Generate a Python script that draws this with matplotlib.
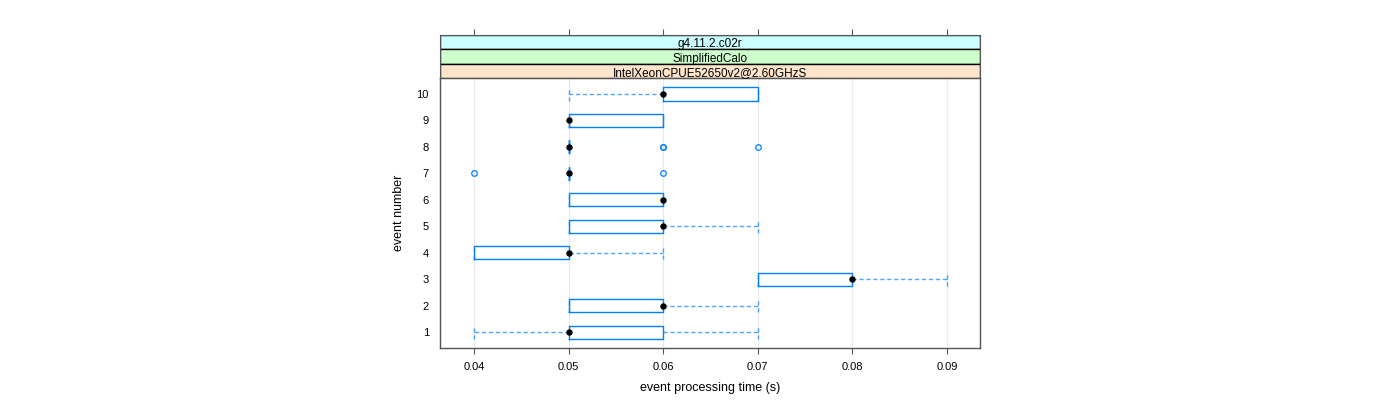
import numpy as np
import matplotlib.pyplot as plt
from matplotlib.patches import Rectangle

plt.rcParams['font.family'] = ['Liberation Sans', 'DejaVu Sans']

# box statistics per event
events = [1, 2, 3, 4, 5, 6, 7, 8, 9, 10]
whislo = [0.04, 0.05, 0.07, 0.04, 0.05, 0.05, 0.05, 0.05, 0.05, 0.05]
q1 = [0.05, 0.05, 0.07, 0.04, 0.05, 0.05, 0.05, 0.05, 0.05, 0.06]
med = [0.05, 0.06, 0.08, 0.05, 0.06, 0.06, 0.05, 0.05, 0.05, 0.06]
q3 = [0.06, 0.06, 0.08, 0.05, 0.06, 0.06, 0.05, 0.05, 0.06, 0.07]
whishi = [0.07, 0.07, 0.09, 0.06, 0.07, 0.06, 0.05, 0.05, 0.06, 0.07]
outliers = [[], [], [], [], [], [], [0.04, 0.06], [0.06, 0.06, 0.07], [], []]

strips = ['g4.11.2.c02r', 'SimplifiedCalo', 'IntelXeonCPUE52650v2@2.60GHzS']
strip_colors = ['#ccffff', '#ccffcc', '#ffe5cc']
xticks = [0.04, 0.05, 0.06, 0.07, 0.08, 0.09]

blue = '#0080ff'
frame = '#555555'

fig = plt.figure(figsize=(14, 4), dpi=100)
ax = fig.add_axes([440 / 1400, 52 / 400, 540 / 1400, 270 / 400])

stats = []
for i in range(len(events)):
    stats.append(dict(whislo=whislo[i], q1=q1[i], med=med[i], q3=q3[i],
                      whishi=whishi[i], fliers=outliers[i]))

for x in xticks:
    ax.axvline(x, color='#e8e8e8', lw=0.9, zorder=0)

ax.bxp(stats, positions=events, vert=False, widths=0.5, capwidths=0.5,
       showfliers=True,
       boxprops=dict(color=blue, lw=1),
       whiskerprops=dict(color=blue, lw=1, ls=(0, (3, 2)), alpha=0.7),
       capprops=dict(color=blue, lw=1, ls=(0, (3, 2)), alpha=0.7),
       medianprops=dict(visible=False),
       flierprops=dict(marker='o', markerfacecolor='none', markeredgecolor=blue,
                       markersize=4, markeredgewidth=0.9))
ax.scatter(med, events, s=13, color='black', zorder=5)

ax.set_xlim(0.0364, 0.0935)
ax.set_ylim(0.4, 10.6)
ax.set_xticks(xticks)
ax.set_xticklabels(['0.04', '0.05', '0.06', '0.07', '0.08', '0.09'])
ax.set_yticks(events)
ax.set_yticklabels([str(e) for e in events])
ax.tick_params(axis='x', length=4, color=frame, labelsize=8, pad=6)
ax.tick_params(axis='y', length=0, labelsize=8, pad=8)
for s in ax.spines.values():
    s.set_color(frame)
    s.set_linewidth(1)
ax.set_xlabel('event processing time (s)', fontsize=9, labelpad=7)
ax.set_ylabel('event number', fontsize=9, labelpad=8)

# strips
sax = fig.add_axes([440 / 1400, 322 / 400, 540 / 1400, 43 / 400])
sax.set_xlim(ax.get_xlim())
sax.set_ylim(0, 3)
for k, (label, col) in enumerate(zip(strips, strip_colors)):
    y0 = 2 - k
    sax.add_patch(Rectangle((0.0364, y0), 0.0935 - 0.0364, 1, facecolor=col,
                            edgecolor='black', lw=1))
    sax.text((0.0364 + 0.0935) / 2, y0 + 0.45, label, ha='center',
             va='center_baseline', fontsize=8.5)
sax.set_xticks(xticks)
sax.set_xticklabels([])
sax.set_yticks([])
sax.xaxis.set_ticks_position('top')
sax.tick_params(axis='x', length=4, color=frame)
for s in sax.spines.values():
    s.set_color(frame)

fig.savefig('out.png', dpi=100)
